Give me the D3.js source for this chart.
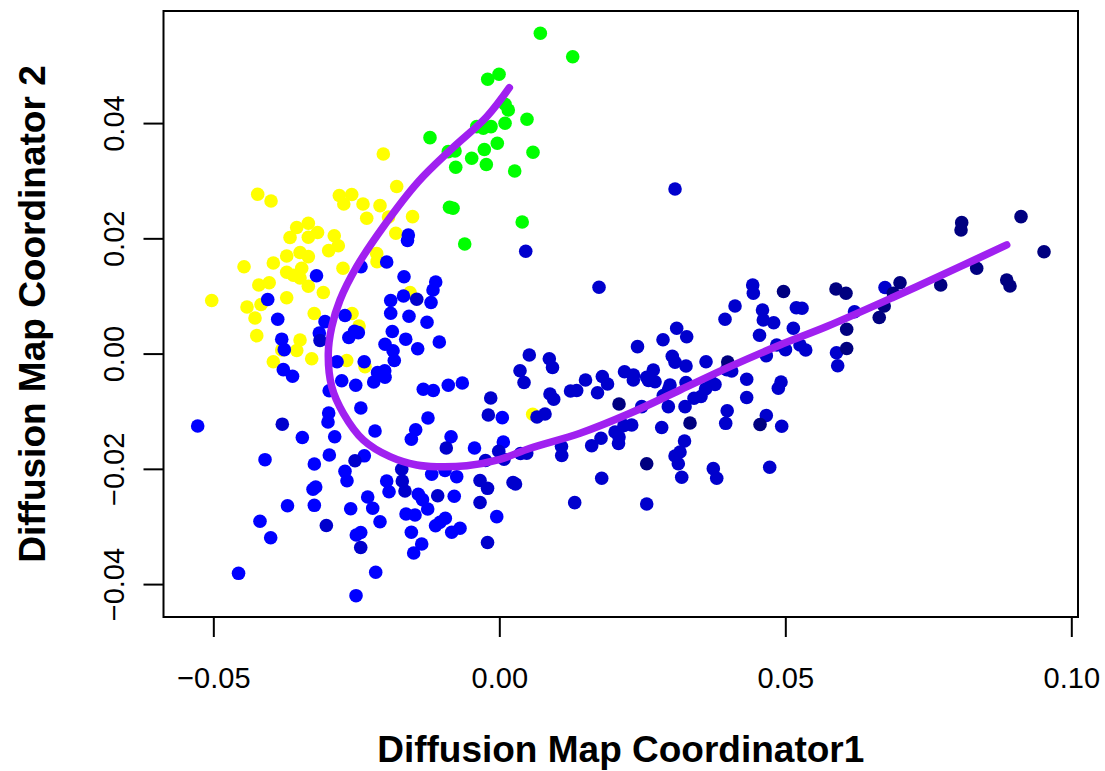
<!DOCTYPE html>
<html><head><meta charset="utf-8">
<script src="https://cdn.jsdelivr.net/npm/d3@7"></script>
<style>body{margin:0;background:#fff}text{font-family:"Liberation Sans",Arial,Helvetica,sans-serif}</style>
</head><body>
<svg id="c" width="1105" height="771"></svg>
<script>
const xTicks = [-0.05, 0, 0.05, 0.10];
const xTickLabels = ["\u22120.05", "0.00", "0.05", "0.10"];
const yTicks = [-0.04, -0.02, 0, 0.02, 0.04];
const yTickLabels = ["\u22120.04", "\u22120.02", "0.00", "0.02", "0.04"];
const xTitle = "Diffusion Map Coordinator1";
const yTitle = "Diffusion Map Coordinator 2";

const yellowPts = [[-0.02028,0.03464],[-0.01794,0.02900],[-0.04224,0.02766],[-0.03991,0.02648],[-0.02797,0.02744],[-0.02580,0.02761],[-0.02719,0.02596],[-0.02383,0.02596],[-0.02086,0.02567],[-0.02318,0.02348],[-0.01937,0.02370],[-0.01517,0.02376],[-0.03542,0.02188],[-0.03339,0.02261],[-0.03178,0.02102],[-0.03659,0.02015],[-0.03339,0.02018],[-0.02886,0.02044],[-0.02815,0.01871],[-0.02983,0.01786],[-0.01809,0.02088],[-0.03717,0.01694],[-0.03484,0.01754],[-0.03339,0.01682],[-0.03951,0.01572],[-0.04463,0.01508],[-0.03717,0.01411],[-0.03455,0.01480],[-0.03601,0.01359],[-0.03484,0.01312],[-0.03339,0.01168],[-0.02733,0.01480],[-0.02143,0.01734],[-0.02138,0.01595],[-0.04205,0.01190],[-0.04023,0.01230],[-0.03077,0.01060],[-0.03717,0.00970],[-0.05028,0.00921],[-0.04411,0.00809],[-0.04166,0.00852],[-0.04271,0.00618],[-0.03236,0.00696],[-0.02575,0.00696],[-0.01561,0.01060],[-0.02453,0.00479],[-0.04241,0.00311],[-0.03484,0.00236],[-0.03542,0.00054],[-0.03280,-0.00089],[-0.03951,-0.00141],[-0.03804,0.00062],[-0.02668,-0.00120],[-0.02348,-0.00227],[0.00584,-0.01053]];

const greenPts = [[0.00717,0.05558],[0.01283,0.05152],[-0.00203,0.04760],[-0.00005,0.04847],[0.00100,0.04326],[0.00157,0.04227],[0.00100,0.03997],[0.00484,0.04066],[-0.00145,0.03938],[-0.00280,0.03910],[-0.00395,0.03938],[-0.01212,0.03747],[-0.00035,0.03649],[-0.00262,0.03542],[-0.00483,0.03389],[-0.00227,0.03282],[-0.00892,0.03504],[-0.00774,0.03516],[-0.00762,0.03233],[0.00589,0.03493],[0.00269,0.03169],[-0.00871,0.02539],[-0.00809,0.02521],[0.00400,0.02284],[-0.00605,0.01902]];

const bluePts = [[-0.04049,0.00939],[-0.03874,0.00595],[-0.03196,0.01350],[-0.02418,0.01508],[-0.01969,0.01590],[-0.01591,0.02058],[-0.01605,0.01963],[-0.01666,0.01334],[-0.01112,0.01243],[-0.01159,0.01104],[-0.01194,0.00887],[-0.01675,0.01000],[-0.01899,0.00921],[-0.01899,0.00699],[-0.01579,0.00647],[-0.01264,0.00543],[-0.01871,0.00384],[-0.01636,0.00250],[-0.01427,0.00085],[-0.01049,0.00201],[-0.01998,0.00161],[-0.01858,0.00050],[-0.01836,-0.00120],[-0.03047,0.00554],[-0.02698,0.00661],[-0.03147,0.00357],[-0.03804,0.00250],[-0.03759,0.00068],[-0.03776,-0.00279],[-0.03615,-0.00394],[-0.02631,0.00279],[-0.02531,0.00387],[-0.02465,0.00363],[-0.02837,-0.00141],[-0.02362,-0.00141],[-0.02755,-0.00472],[-0.02510,-0.00550],[-0.02974,-0.00644],[-0.02129,-0.00331],[-0.02003,-0.00298],[-0.01998,-0.00411],[-0.02196,-0.00493],[-0.02421,-0.00944],[-0.02983,-0.01031],[-0.02995,-0.01187],[-0.02878,-0.01442],[-0.02972,-0.01760],[-0.02173,-0.01343],[-0.05273,-0.01256],[-0.03444,-0.01456],[-0.04096,-0.01841],[-0.03234,-0.01916],[-0.02698,-0.02043],[-0.02663,-0.02206],[-0.02360,-0.01774],[-0.03210,-0.02315],[-0.03257,-0.02353],[-0.03703,-0.02640],[-0.03234,-0.02633],[-0.04184,-0.02910],[-0.03997,-0.03195],[-0.02598,-0.02692],[-0.02301,-0.02488],[-0.02213,-0.02685],[-0.02086,-0.02917],[-0.02500,-0.03148],[-0.02423,-0.03105],[-0.04559,-0.03813],[-0.02161,-0.03795],[-0.02505,-0.04201],[-0.01329,-0.00618],[-0.01154,-0.00640],[-0.00892,-0.00550],[-0.00647,-0.00510],[-0.01247,-0.01118],[-0.01462,-0.01321],[-0.01538,-0.01487],[-0.00844,-0.01442],[-0.00434,-0.01638],[-0.01969,-0.02211],[-0.01928,-0.02397],[-0.01182,-0.02093],[-0.00949,-0.02029],[-0.00745,-0.02136],[-0.01416,-0.02442],[-0.01343,-0.02535],[-0.01252,-0.02697],[-0.00788,-0.02476],[-0.01631,-0.02783],[-0.01474,-0.02801],[-0.01115,-0.02988],[-0.01037,-0.02926],[-0.00944,-0.02858],[-0.00832,-0.03101],[-0.00687,-0.03032],[-0.01538,-0.03101],[-0.01357,-0.03304],[-0.01497,-0.03460],[0.00052,-0.01112],[-0.00045,-0.02830],[0.00070,-0.01534]];

const mediumBluePts = [[-0.03135,0.00227],[-0.03794,-0.01225],[-0.03024,-0.02983],[-0.00927,-0.01638],[-0.01706,-0.02008],[-0.01649,-0.02384],[-0.01077,-0.02466],[-0.02523,-0.01859],[-0.02423,-0.03365],[-0.00206,-0.03278],[-0.01444,0.00942],[-0.01696,-0.02211],[0.00462,0.01775],[0.03072,0.02856],[0.01743,0.01151],[0.00524,-0.00024],[0.00362,-0.00297],[0.00432,-0.00502],[0.00874,-0.00089],[0.00930,-0.00241],[0.00886,-0.00701],[0.00951,-0.00793],[-0.00150,-0.00770],[-0.00192,-0.01066],[0.00659,-0.01100],[0.00799,-0.01048],[0.01245,-0.00649],[0.01353,-0.00640],[0.01507,-0.00458],[0.01717,-0.00680],[0.01801,-0.00397],[0.01892,-0.00528],[0.02189,-0.00314],[0.02346,-0.00371],[0.02343,-0.00458],[0.02416,0.00120],[0.02490,-0.00921],[0.02862,0.00241],[0.03101,0.00439],[0.03276,0.00293],[0.03024,-0.00047],[0.03072,-0.00151],[0.03264,-0.00215],[0.02577,-0.00411],[0.02692,-0.00285],[0.02722,-0.00488],[0.02608,-0.00467],[0.02984,-0.00545],[0.02955,-0.00632],[0.02867,-0.00727],[0.02955,-0.00921],[0.03264,-0.00502],[0.03247,-0.00921],[0.03614,-0.00141],[0.03701,-0.00493],[0.03771,-0.00536],[0.03605,-0.00614],[0.03526,-0.00744],[0.03404,-0.00776],[0.03946,0.00595],[0.04121,0.00826],[0.04430,0.01190],[0.04441,0.01046],[0.04601,0.00757],[0.04615,0.00583],[0.04797,0.00536],[0.04549,0.00318],[0.04668,-0.00036],[0.03976,-0.00279],[0.04063,-0.00302],[0.04325,-0.00446],[0.04325,-0.00762],[0.03984,-0.00991],[0.03958,-0.01210],[0.04668,-0.01074],[0.04925,-0.00493],[0.04878,-0.00602],[0.04937,-0.01262],[0.04727,-0.01973],[0.03741,-0.01997],[0.03801,-0.02164],[0.03189,-0.02147],[0.03129,-0.01911],[0.03072,-0.01777],[0.03159,-0.01708],[0.03238,-0.01517],[0.02839,-0.01282],[0.02315,-0.01239],[0.02180,-0.01248],[0.02023,-0.01360],[0.02093,-0.01447],[0.02084,-0.01560],[0.01778,-0.01470],[0.01615,-0.01598],[0.01790,-0.02164],[0.01318,-0.02587],[0.02577,-0.02610],[0.01087,-0.01612],[0.01091,-0.01768],[0.00371,-0.01734],[0.00479,-0.01730],[0.00240,-0.02237],[0.00283,-0.02263],[-0.00337,-0.02584],[-0.00337,-0.02202],[-0.00206,-0.02338],[-0.00241,-0.01855],[-0.00010,-0.01694],[0.00082,-0.01834],[0.04850,0.00149],[0.05003,0.00068],[0.05257,0.00149],[0.05357,0.00062],[0.05140,0.00439],[0.05192,0.00795],[0.05292,0.00786],[0.05895,0.00014],[0.05916,-0.00210],[0.06210,0.00727],[0.06743,0.01147]];

const navyPts = [[0.02093,-0.00875],[0.02577,-0.01911],[0.03334,-0.01204],[0.03993,-0.00146],[0.04558,-0.01230],[0.04969,0.01078],[0.05886,0.01121],[0.06061,0.01046],[0.06073,0.00423],[0.06073,0.00089],[0.07005,0.01230],[0.06888,0.01046],[0.06729,0.00826],[0.06642,0.00626],[0.07717,0.01190],[0.08346,0.01480],[0.08084,0.02272],[0.08072,0.02145],[0.09121,0.02376],[0.09523,0.01768],[0.08871,0.01277],[0.08928,0.01173]];

const curveX = [0.00175,-0.00220,-0.00836,-0.01421,-0.02028,-0.02493,-0.02785,-0.02930,-0.02990,-0.02930,-0.02727,-0.02378,-0.01911,-0.01444,-0.01094,-0.00570,0.00012,0.00537,0.01411,0.02285,0.03159,0.04033,0.04907,0.05724,0.06888,0.08054,0.08871];
const curveY = [0.04614,0.04111,0.03551,0.02978,0.02202,0.01508,0.00930,0.00462,0.00005,-0.00574,-0.01036,-0.01499,-0.01789,-0.01933,-0.01963,-0.01945,-0.01834,-0.01643,-0.01383,-0.01036,-0.00632,-0.00227,0.00149,0.00469,0.00977,0.01508,0.01885];

const groups = [
  {pts: yellowPts, color: "#FFFF00"},
  {pts: greenPts, color: "#00FF00"},
  {pts: bluePts, color: "#0000FF"},
  {pts: mediumBluePts, color: "#0000CD"},
  {pts: navyPts, color: "#000080"}
];

const L = 163.5, R = 1078, T = 11, B = 617;
const x = d3.scaleLinear().domain([-0.05871, 0.10117]).range([L, R]);
const y = d3.scaleLinear().domain([-0.04571, 0.05945]).range([B, T]);

const svg = d3.select("#c");

const g = svg.append("g");
groups.forEach(grp => {
  g.selectAll(null).data(grp.pts).enter().append("circle")
    .attr("cx", d => x(d[0])).attr("cy", d => y(d[1]))
    .attr("r", 6.8).attr("fill", grp.color);
});

const line = d3.line().x(d => x(d[0])).y(d => y(d[1])).curve(d3.curveCatmullRom.alpha(0.5));
svg.append("path").datum(curveX.map((v, i) => [v, curveY[i]]))
  .attr("d", line).attr("fill", "none").attr("stroke", "#A020F0")
  .attr("stroke-width", 7.5).attr("stroke-linecap", "round").attr("stroke-linejoin", "round");

svg.append("rect").attr("x", L).attr("y", T).attr("width", R - L).attr("height", B - T)
  .attr("fill", "none").attr("stroke", "#000").attr("stroke-width", 2);

const xAxis = d3.axisBottom(x).tickValues(xTicks).tickFormat((d, i) => xTickLabels[i]).tickSize(20).tickPadding(8);
const gx = svg.append("g").attr("transform", `translate(0,${B})`).call(xAxis);
gx.select(".domain").remove();
gx.selectAll(".tick line").attr("stroke", "#000").attr("stroke-width", 2);
gx.selectAll(".tick text").attr("font-size", 29).attr("fill", "#000")
  .attr("y", 71).attr("dy", 0)
  .style("font-family", '"Liberation Sans", Arial, sans-serif');

const yAxis = d3.axisLeft(y).tickValues(yTicks).tickFormat((d, i) => yTickLabels[i]).tickSize(20);
const gy = svg.append("g").attr("transform", `translate(${L},0)`).call(yAxis);
gy.select(".domain").remove();
gy.selectAll(".tick line").attr("stroke", "#000").attr("stroke-width", 2);
gy.selectAll(".tick text").attr("font-size", 29).attr("fill", "#000")
  .attr("transform", "rotate(-90)").attr("x", 0).attr("y", -40).attr("dy", 0)
  .attr("text-anchor", "middle")
  .style("font-family", '"Liberation Sans", Arial, sans-serif');

svg.append("text").attr("x", (L + R) / 2).attr("y", 762).attr("text-anchor", "middle")
  .attr("font-size", 37).attr("font-weight", "bold").text(xTitle);
svg.append("text").attr("transform", `translate(45,${(T + B) / 2}) rotate(-90)`)
  .attr("text-anchor", "middle").attr("font-size", 37).attr("font-weight", "bold").text(yTitle);
</script>
</body></html>
